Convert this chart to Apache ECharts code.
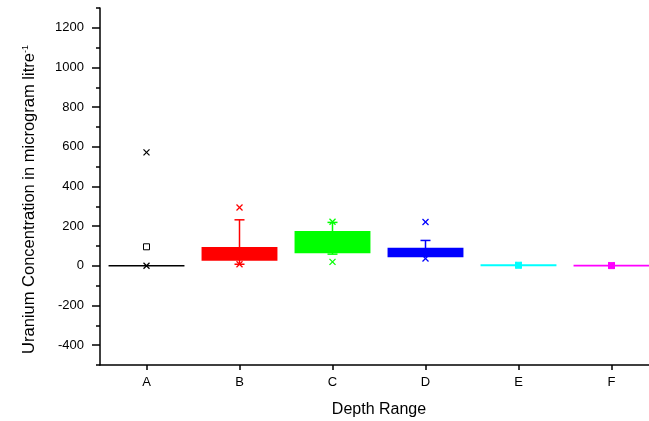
<!DOCTYPE html>
<html>
<head>
<meta charset="utf-8">
<script src="https://cdn.jsdelivr.net/npm/echarts@6/dist/echarts.min.js"></script>
<style>html,body{margin:0;padding:0;background:#fff;}#c{width:649px;height:421px;}</style>
</head>
<body>
<div id="c"></div>
<script>
// Data
const categories = ['A', 'B', 'C', 'D', 'E', 'F'];
const q1 = [0, 30, 67, 47, 2, 0];            // box bottom (25th pct)
const q3 = [1, 91, 172, 87, 4, 2];           // box top (75th pct)
const whiskerLow = [0, 8, 59, 47, 2, 0];
const whiskerHigh = [1, 232, 219, 128, 4, 2];
const minMark = [0, 8, 20, 37, 3, 1];        // lower × marker
const maxMark = [572, 294, 222, 221, 4, 3];  // upper × marker
const meanMark = [96, null, null, null, 3, 1];
const yMajorTicks = [-400, -200, 0, 200, 400, 600, 800, 1000, 1200];
const yMinorTicks = [-500, -300, -100, 100, 300, 500, 700, 900, 1100, 1300];

const colors = ['#000000', '#ff0000', '#00ff00', '#0000ff', '#00ffff', '#ff00ff'];

const chart = echarts.init(document.getElementById('c'), null, {renderer: 'canvas'});

const data = categories.map((c, i) => [i, q1[i], q3[i], whiskerLow[i], whiskerHigh[i], minMark[i], maxMark[i], meanMark[i] == null ? NaN : meanMark[i]]);

function renderItem(params, api) {
  const i = api.value(0);
  const col = colors[params.dataIndex];
  const cx = api.coord([i, 0])[0];
  const bw = api.size([1, 0])[0] * 0.8;
  const yQ1 = api.coord([i, api.value(1)])[1];
  const yQ3 = api.coord([i, api.value(2)])[1];
  const yWL = api.coord([i, api.value(3)])[1];
  const yWH = api.coord([i, api.value(4)])[1];
  const yMin = api.coord([i, api.value(5)])[1];
  const yMax = api.coord([i, api.value(6)])[1];
  const meanV = api.value(7);
  const children = [];
  const lw = 1.5;
  if (api.value(4) > api.value(2)) {
    children.push({type: 'line', shape: {x1: cx, y1: yQ3, x2: cx, y2: yWH}, style: {stroke: col, lineWidth: lw}});
    children.push({type: 'line', shape: {x1: cx - 5, y1: yWH, x2: cx + 5, y2: yWH}, style: {stroke: col, lineWidth: lw}});
  }
  if (api.value(3) < api.value(1)) {
    children.push({type: 'line', shape: {x1: cx, y1: yQ1, x2: cx, y2: yWL}, style: {stroke: col, lineWidth: lw}});
    children.push({type: 'line', shape: {x1: cx - 5, y1: yWL, x2: cx + 5, y2: yWL}, style: {stroke: col, lineWidth: lw}});
  }
  children.push({type: 'rect', shape: {x: cx - bw / 2, y: yQ3, width: bw, height: Math.max(yQ1 - yQ3, 0)}, style: {fill: col, stroke: col, lineWidth: 1.5}});
  [yMin, yMax].forEach(function (y) {
    const s = 3;
    children.push({type: 'line', shape: {x1: cx - s, y1: y - s, x2: cx + s, y2: y + s}, style: {stroke: col, lineWidth: 1.3}});
    children.push({type: 'line', shape: {x1: cx - s, y1: y + s, x2: cx + s, y2: y - s}, style: {stroke: col, lineWidth: 1.3}});
  });
  if (!isNaN(meanV)) {
    const ym = api.coord([i, meanV])[1];
    const isA = params.dataIndex === 0;
    children.push({type: 'rect', shape: {x: cx - 3, y: ym - 3, width: 6, height: 6}, style: {fill: isA ? '#fff' : col, stroke: col, lineWidth: 1}});
  }
  return {type: 'group', children: children};
}

const labelFont = {fontFamily: 'Liberation Sans, Arial, sans-serif', color: '#000'};

chart.setOption({
  animation: false,
  backgroundColor: '#fff',
  grid: {left: 100, width: 558, top: 8, height: 357, containLabel: false, outerBoundsMode: 'none'},
  xAxis: {
    type: 'category',
    data: categories,
    boundaryGap: true,
    axisLine: {show: true, onZero: false, lineStyle: {color: '#000', width: 1.5}},
    axisTick: {show: true, alignWithLabel: true, length: 5, lineStyle: {color: '#000', width: 1.5}},
    axisLabel: Object.assign({fontSize: 13, margin: 11}, labelFont),
    splitLine: {show: false},
    name: 'Depth Range',
    nameLocation: 'middle',
    nameGap: 37,
    nameTextStyle: Object.assign({fontSize: 16}, labelFont)
  },
  yAxis: [
    {
      type: 'value',
      min: -500,
      max: 1300,
      position: 'left',
      axisLine: {show: true, onZero: false, lineStyle: {color: '#000', width: 1.5}},
      axisTick: {show: true, length: 4, customValues: yMinorTicks, lineStyle: {color: '#000', width: 1.5}},
      axisLabel: {show: false},
      splitLine: {show: false}
    },
    {
      type: 'value',
      min: -500,
      max: 1300,
      position: 'left',
      offset: 0,
      axisLine: {show: false, onZero: false},
      axisTick: {show: true, length: 8, customValues: yMajorTicks, lineStyle: {color: '#000', width: 1.5}},
      axisLabel: Object.assign({fontSize: 13, margin: 16, customValues: yMajorTicks, formatter: function (v) { return String(v); }}, labelFont),
      splitLine: {show: false},
      name: 'Uranium Concentration in microgram litre{sup|-1}',
      nameLocation: 'middle',
      nameGap: 62,
      nameRotate: 90,
      nameTextStyle: Object.assign({fontSize: 16.5, padding: [0, 26, 0, 0], rich: {sup: {fontSize: 9, verticalAlign: 'top', padding: [0, 0, 8, 0], fontFamily: 'Liberation Sans, Arial, sans-serif', color: '#000'}}}, labelFont)
    }
  ],
  series: [{
    type: 'custom',
    renderItem: renderItem,
    xAxisIndex: 0,
    yAxisIndex: 0,
    encode: {x: 0, y: 1},
    data: data,
    clip: false
  }]
});
</script>
</body>
</html>
